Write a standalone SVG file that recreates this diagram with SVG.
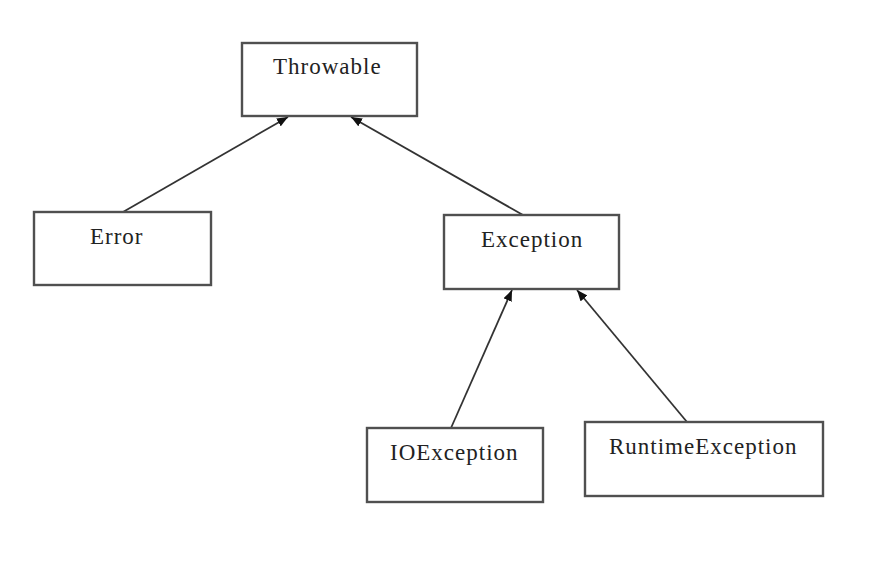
<svg xmlns="http://www.w3.org/2000/svg" width="880" height="562" viewBox="0 0 880 562">
<style>
.box{fill:#ffffff;stroke:#505050;stroke-width:2.4}
.lbl{font-family:"Liberation Serif","Times New Roman",serif;font-size:23px;letter-spacing:1px;fill:#222222}
.edge{stroke:#333333;stroke-width:1.8;fill:none;marker-end:url(#arr)}
</style>
<defs>
<marker id="arr" viewBox="0 0 11 9" refX="11" refY="4.5" markerWidth="11" markerHeight="9" markerUnits="userSpaceOnUse" orient="auto">
<path d="M0,0 L11,4.5 L0,9 Z" fill="#111111"/>
</marker>
</defs>
<rect width="880" height="562" fill="#ffffff"/>
<g id="connectors">
<line class="edge" x1="123" y1="212" x2="288" y2="117"/>
<line class="edge" x1="523" y1="215" x2="351" y2="117"/>
<line class="edge" x1="451" y1="428" x2="512" y2="290"/>
<line class="edge" x1="687" y1="422" x2="577" y2="290"/>
</g>
<g id="throwable">
<rect class="box" x="242" y="43" width="175" height="73"/>
<text class="lbl" x="273" y="74">Throwable</text>
</g>
<g id="error">
<rect class="box" x="34" y="212" width="177" height="73"/>
<text class="lbl" x="90" y="244">Error</text>
</g>
<g id="exception">
<rect class="box" x="444" y="215" width="175" height="74"/>
<text class="lbl" x="481" y="247">Exception</text>
</g>
<g id="ioexception">
<rect class="box" x="367" y="428" width="176" height="74"/>
<text class="lbl" x="390" y="460">IOException</text>
</g>
<g id="runtimeexception">
<rect class="box" x="585" y="422" width="238" height="74"/>
<text class="lbl" x="609" y="454">RuntimeException</text>
</g>
</svg>
